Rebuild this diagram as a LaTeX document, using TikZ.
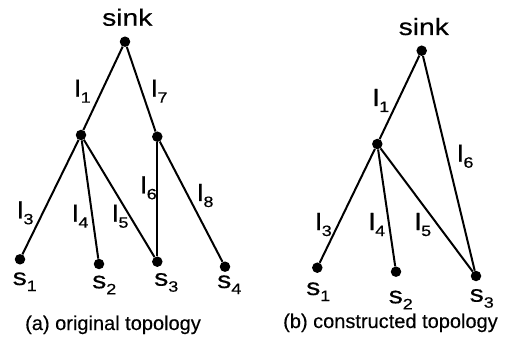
\documentclass[tikz,border=0pt]{standalone}
\usepackage{fontspec}
\setmainfont{Liberation Sans}
\newfontfamily\labfont[FakeStretch=1.2,FakeBold=0.5]{Liberation Sans}
\newfontfamily\capfont[FakeBold=0.3]{Liberation Sans}
\newcommand{\sublab}[2]{#1\raisebox{-6pt}{\fontsize{15}{15}\selectfont #2}}
\begin{document}
\begin{tikzpicture}[x=1pt,y=-1pt,
  dot/.style={circle,fill=black,inner sep=0pt,minimum size=10.5pt},
  edge/.style={line width=2pt},
  lab/.style={anchor=base west,inner sep=0pt,font=\labfont\fontsize{23.5}{26}\selectfont},
  captxt/.style={anchor=base west,inner sep=0pt,font=\capfont\fontsize{20}{24}\selectfont}]
\useasboundingbox (0,0) rectangle (520,342);
% (a)
\node[dot] (sa) at (125,41.7) {};
\node[dot] (ma1) at (81,135) {};
\node[dot] (ma2) at (157.3,136.7) {};
\node[dot] (sa1) at (20,259.3) {};
\node[dot] (sa2) at (99,264) {};
\node[dot] (sa3) at (157.3,261.7) {};
\node[dot] (sa4) at (225,266.7) {};
\draw[edge] (sa) -- (ma1);
\draw[edge] (sa) -- (ma2);
\draw[edge] (ma1) -- (sa1);
\draw[edge] (ma1) -- (sa2);
\draw[edge] (ma1) -- (sa3);
\draw[edge] (ma2) -- (sa3);
\draw[edge] (ma2) -- (sa4);
\node[lab] (tsa) at (102,25.7) {sink};
\node[lab] (la1) at (74.3,96.7) {\sublab{l}{1}};
\node[lab] (la7) at (151,96.7) {\sublab{l}{7}};
\node[lab] (la6) at (140.3,193.3) {\sublab{l}{6}};
\node[lab] (la8) at (197,201) {\sublab{l}{8}};
\node[lab] (la3) at (17,218.3) {\sublab{l}{3}};
\node[lab] (la4) at (72,221.7) {\sublab{l}{4}};
\node[lab] (la5) at (112,221.7) {\sublab{l}{5}};
\node[lab] (ta1) at (12.5,285) {\sublab{s}{1}};
\node[lab] (ta2) at (92,288.3) {\sublab{s}{2}};
\node[lab] (ta3) at (154,285.7) {\sublab{s}{3}};
\node[lab] (ta4) at (217,288) {\sublab{s}{4}};
\node[captxt] (capa) at (25,330) {(a) original topology};
% (b)
\node[dot] (sb) at (421.7,50.7) {};
\node[dot] (mb) at (377.3,144) {};
\node[dot] (sb1) at (317.3,267.7) {};
\node[dot] (sb2) at (396,271.7) {};
\node[dot] (sb3) at (476,276) {};
\draw[edge] (sb) -- (mb);
\draw[edge] (sb) -- (sb3);
\draw[edge] (mb) -- (sb1);
\draw[edge] (mb) -- (sb2);
\draw[edge] (mb) -- (sb3);
\node[lab] (tsb) at (398.5,35) {sink};
\node[lab] (lb1) at (372.7,106) {\sublab{l}{1}};
\node[lab] (lb6) at (457,161.7) {\sublab{l}{6}};
\node[lab] (lb3) at (315.3,230) {\sublab{l}{3}};
\node[lab] (lb4) at (368.7,230) {\sublab{l}{4}};
\node[lab] (lb5) at (414.7,230) {\sublab{l}{5}};
\node[lab] (tb1) at (306,295) {\sublab{s}{1}};
\node[lab] (tb2) at (388.5,303.3) {\sublab{s}{2}};
\node[lab] (tb3) at (469.5,301.7) {\sublab{s}{3}};
\node[captxt] (capb) at (283,328) {(b) constructed topology};
\end{tikzpicture}
\end{document}
